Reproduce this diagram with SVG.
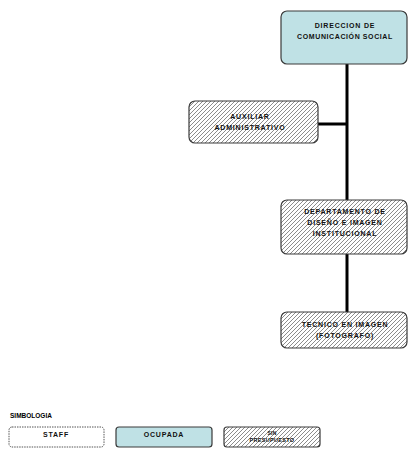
<svg xmlns="http://www.w3.org/2000/svg" width="411" height="458" viewBox="0 0 411 458">
  <style>
    .box { stroke: #3a3a3a; stroke-width: 1.2; }
    .occ { fill: #bfe1e5; }
    .hatch { fill: url(#hatch); }
    .staff { fill: #ffffff; stroke: #555; stroke-width: 1; stroke-dasharray: 1.5 1; }
    .lbl { font-family: "Liberation Sans", Arial, sans-serif; font-weight: bold; font-size: 7px; letter-spacing: 0.8px; fill: #111; text-anchor: middle; }
    .title { font-family: "Liberation Sans", Arial, sans-serif; font-weight: bold; font-size: 6.5px; fill: #000; }
    .link { stroke: #000; stroke-width: 3; fill: none; }
  </style>
  <defs>
    <pattern id="hatch" patternUnits="userSpaceOnUse" width="4" height="4">
      <rect width="4" height="4" fill="#ffffff"/>
      <path d="M-1,1 l2,-2 M0,4 l4,-4 M3,5 l2,-2" stroke="#6e6e6e" stroke-width="0.8"/>
    </pattern>
  </defs>
  <rect width="411" height="458" fill="#ffffff"/>

  <!-- reporting lines -->
  <g id="connectors">
    <path class="link" d="M347,63 V312"/>
    <path class="link" d="M318,124 H347"/>
  </g>

  <g id="direccion">
    <rect class="box occ" x="281" y="11" width="126" height="53" rx="6"/>
    <text class="lbl" x="345" y="28">DIRECCION DE</text>
    <text class="lbl" x="345" y="39" style="letter-spacing:0.6px">COMUNICACIÓN SOCIAL</text>
  </g>

  <g id="auxiliar">
    <rect class="box hatch" x="189" y="101" width="129" height="42" rx="6"/>
    <text class="lbl" x="250" y="119">AUXILIAR</text>
    <text class="lbl" x="250" y="130">ADMINISTRATIVO</text>
  </g>

  <g id="departamento">
    <rect class="box hatch" x="281" y="200" width="126" height="54" rx="6"/>
    <text class="lbl" x="345" y="214">DEPARTAMENTO DE</text>
    <text class="lbl" x="345" y="225">DISEÑO E IMAGEN</text>
    <text class="lbl" x="345" y="236">INSTITUCIONAL</text>
  </g>

  <g id="tecnico">
    <rect class="box hatch" x="281" y="312" width="126" height="36" rx="6"/>
    <text class="lbl" x="345" y="327">TECNICO EN IMAGEN</text>
    <text class="lbl" x="345" y="338">(FOTOGRAFO)</text>
  </g>

  <!-- legend -->
  <g id="legend">
    <text class="title" x="10" y="418">SIMBOLOGIA</text>
    <g id="legend-staff">
      <rect class="staff" x="9" y="427" width="95" height="20" rx="3"/>
      <text class="lbl" x="56" y="437">STAFF</text>
    </g>
    <g id="legend-ocupada">
      <rect class="box occ" x="116" y="427" width="96" height="20" rx="3"/>
      <text class="lbl" x="164" y="437">OCUPADA</text>
    </g>
    <g id="legend-sin">
      <rect class="box hatch" x="224" y="427" width="96" height="20" rx="3"/>
      <text class="lbl" x="272" y="435" style="font-size:5px;letter-spacing:0.3px">SIN</text>
      <text class="lbl" x="272" y="442" style="font-size:5.5px;letter-spacing:0.3px">PRESUPUESTO</text>
    </g>
  </g>
</svg>
